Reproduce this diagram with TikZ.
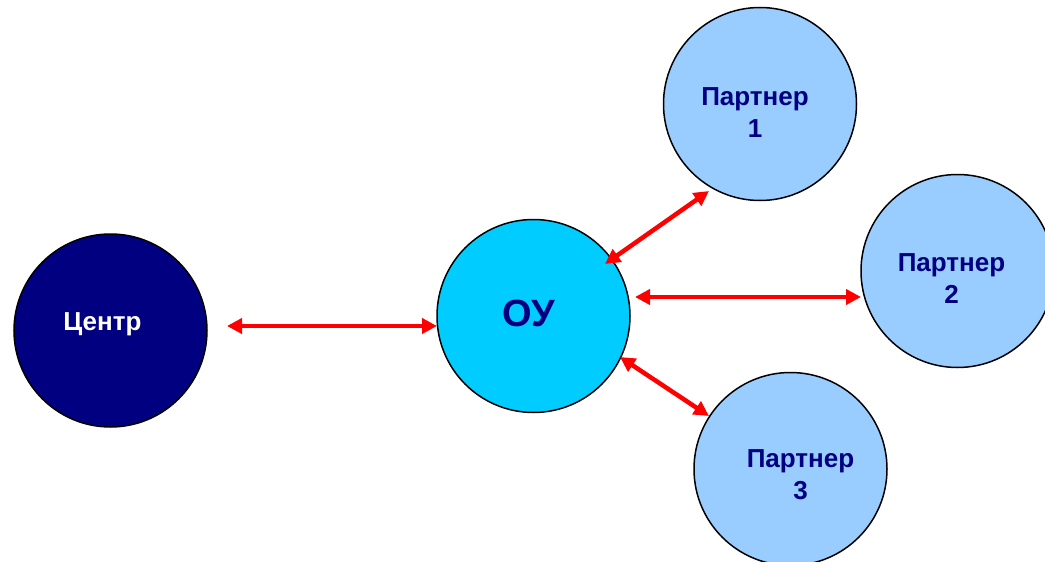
\documentclass[tikz,border=0pt]{standalone}
\usepackage{fontspec}
\setmainfont{Liberation Sans}
\usetikzlibrary{arrows.meta,calc}
\definecolor{navy}{HTML}{000080}
\definecolor{oucol}{HTML}{00CCFF}
\definecolor{pcol}{HTML}{99CCFF}
\definecolor{arrred}{HTML}{FF0000}
\begin{document}
\begin{tikzpicture}[x=1pt,y=-1pt,
  ball/.style={circle,draw=black,line width=1.5pt,minimum size=193pt,inner sep=0pt},
  ptext/.style={font=\bfseries\fontsize{26}{32}\selectfont,text=navy,align=center},
  dblarrow/.style={draw=arrred,line width=4.5pt,{Triangle[length=15pt,width=15pt]}-{Triangle[length=15pt,width=15pt]}}]
\useasboundingbox (0,0) rectangle (1045,562);
\node[ball,fill=navy] (c) at (110.5,330.5) {};
\node[ball,fill=oucol] (ou) at (533.5,316) {};
\node[ball,fill=pcol] (p1) at (760,104) {};
\node[ball,fill=pcol] (p2) at (957.5,271) {};
\node[ball,fill=pcol] (p3) at (790.5,469) {};
\node[font=\bfseries\fontsize{26}{32}\selectfont,text=white] (ct) at (102.5,324) {Центр};
\node[font=\bfseries\fontsize{38}{44}\selectfont,text=navy] (out) at (529,313) {ОУ};
\node[ptext] (p1t) at (755,112.5) {Партнер\\1};
\node[ptext] (p2t) at (951.5,279) {Партнер\\2};
\node[ptext] (p3t) at (800.5,475) {Партнер\\3};
\draw[dblarrow] ($(c)+(116.5,-4.5)$) -- ($(ou)+(-96.5,10)$);
\draw[dblarrow] ($(ou)+(71.5,-52)$) -- ($(p1)+(-51,87)$);
\draw[dblarrow] ($(ou)+(101.5,-19)$) -- ($(p2)+(-96.5,26)$);
\draw[dblarrow] ($(ou)+(86.5,41)$) -- ($(p3)+(-81.5,-53)$);
\end{tikzpicture}
\end{document}
